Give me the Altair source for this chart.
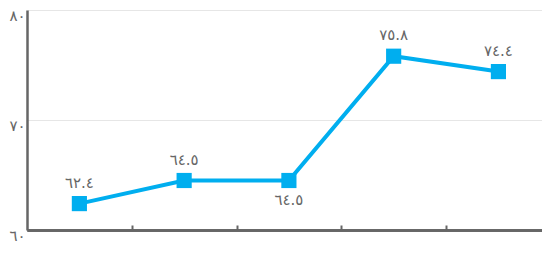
import altair as alt
import pandas as pd

# data
positions = [0, 1, 2, 3, 4]
values = [62.4, 64.5, 64.5, 75.8, 74.4]
label_above = [True, True, False, True, True]
y_ticks = [60, 70, 80]
y_tick_labels = ["٦٠", "٧٠", "٨٠"]
x_ticks = [0.5, 1.5, 2.5, 3.5]

digits = str.maketrans("0123456789", "٠١٢٣٤٥٦٧٨٩")
df = pd.DataFrame({
    "pos": positions,
    "value": values,
    "label": [f"{v:.1f}".translate(digits) for v in values],
    "above": label_above,
})

label_expr = " : ".join(
    f"datum.value == {v} ? '{t}'" for v, t in zip(y_ticks[:-1], y_tick_labels[:-1])
) + f" : '{y_tick_labels[-1]}'"

BLUE = "#00AEEF"
GREY = "#666666"
FONT = "DejaVu Sans"
H = 220
W = 515

xscale = alt.Scale(domain=[-0.5, 4.416], nice=False, zero=False)
yscale = alt.Scale(domain=[60, 80], nice=False, zero=False)

yaxis = alt.Axis(values=y_ticks, labelExpr=label_expr, grid=True, gridColor="#e6e6e6",
                 gridWidth=1, ticks=False, domainColor=GREY, domainWidth=2.5,
                 labelColor=GREY, labelFontSize=15, labelFont=FONT, labelPadding=2,
                 labelOffset=5, title=None)
xaxis_bottom = alt.Axis(orient="bottom", values=x_ticks, ticks=False, labels=False, grid=False,
                        domainColor=GREY, domainWidth=2.5, title=None)
xaxis_top = alt.Axis(orient="top", offset=-H, values=x_ticks, domain=False, labels=False,
                     grid=False, ticks=True, tickSize=5, tickWidth=2, tickColor=GREY, title=None)

line = alt.Chart(df).mark_line(color=BLUE, strokeWidth=4).encode(
    x=alt.X("pos:Q", scale=xscale, axis=xaxis_bottom),
    y=alt.Y("value:Q", scale=yscale, axis=yaxis),
)
points = alt.Chart(df).mark_point(shape="square", filled=True, color=BLUE, size=230, opacity=1).encode(
    x=alt.X("pos:Q", scale=xscale, axis=xaxis_top),
    y=alt.Y("value:Q", scale=yscale, axis=yaxis),
)
labels_above = alt.Chart(df).transform_filter("datum.above").mark_text(
    dy=-21, fontSize=15, font=FONT, color=GREY
).encode(
    x=alt.X("pos:Q", scale=xscale, axis=xaxis_bottom),
    y=alt.Y("value:Q", scale=yscale, axis=yaxis),
    text="label:N",
)
labels_below = alt.Chart(df).transform_filter("!datum.above").mark_text(
    dy=19, fontSize=15, font=FONT, color=GREY
).encode(
    x=alt.X("pos:Q", scale=xscale, axis=xaxis_bottom),
    y=alt.Y("value:Q", scale=yscale, axis=yaxis),
    text="label:N",
)

chart = alt.layer(line, points, labels_above, labels_below).properties(
    width=W, height=H, padding={"left": 0, "top": 0, "right": 0, "bottom": 5}
).configure_view(stroke=None)

chart.save("out.html", embed_options={"renderer": "svg", "actions": False})
